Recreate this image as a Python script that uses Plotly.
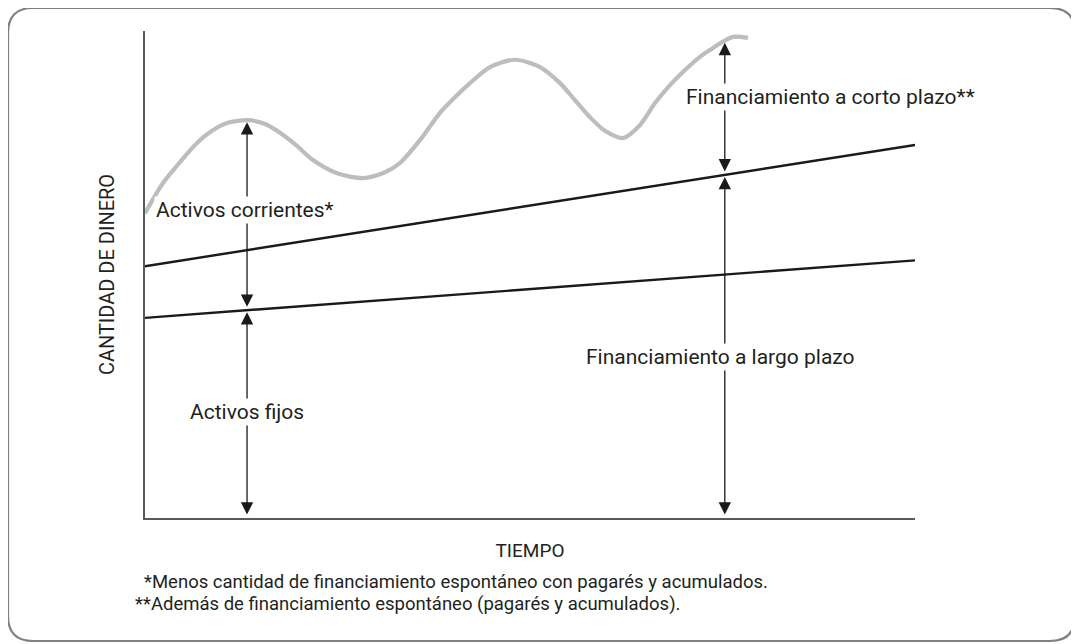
import numpy as np
import plotly.graph_objects as go

# Eje del tiempo (0-100) y cantidad de dinero (0-100), unidades arbitrarias
curva_x = [0, 2.34, 4.55, 6.75, 8.70, 10.65, 13.38, 15.58, 17.53, 19.74, 21.82,
           24.94, 28.31, 31.17, 33.12, 35.71, 38.31, 40.26, 42.21, 44.81, 48.05,
           51.30, 53.90, 55.84, 57.79, 59.74, 62.08, 64.29, 66.23, 68.18, 70.13,
           72.08, 73.38, 74.94, 76.36, 78.31]
curva_y = [62.6, 68.8, 73.1, 77.0, 79.5, 81.1, 81.7, 80.9, 79.1, 76.4, 73.5,
           70.8, 69.8, 71.0, 72.9, 77.6, 83.2, 86.4, 89.3, 92.6, 94.1,
           92.6, 89.3, 85.8, 82.3, 79.5, 78.0, 80.7, 85.2, 88.9, 92.0,
           94.7, 96.1, 97.7, 98.8, 98.6]

linea_x = [0, 100]
permanentes_y = [51.7, 76.6]   # activos fijos + activos corrientes permanentes
fijos_y = [41.1, 52.9]         # activos fijos

flecha_x = [13.25, 75.3]

etiquetas = {
    "corrientes": "Activos corrientes*",
    "fijos": "Activos fijos",
    "corto": "Financiamiento a corto plazo**",
    "largo": "Financiamiento a largo plazo",
}
notas = [
    "*Menos cantidad de financiamiento espontáneo con pagarés y acumulados.",
    "**Además de financiamiento espontáneo (pagarés y acumulados).",
]

FONT = "Roboto, Liberation Sans, Arial, sans-serif"
TXT = "#231f20"

fig = go.Figure()
fig.add_trace(go.Scatter(x=curva_x, y=curva_y, mode="lines",
                         line=dict(color="#bcbdc0", width=4.2, shape="spline", smoothing=0.8),
                         hoverinfo="skip"))
fig.add_trace(go.Scatter(x=linea_x, y=permanentes_y, mode="lines",
                         line=dict(color="#1a1a1a", width=2.4), hoverinfo="skip"))
fig.add_trace(go.Scatter(x=linea_x, y=fijos_y, mode="lines",
                         line=dict(color="#1a1a1a", width=2.4), hoverinfo="skip"))


def _arrow(x, y0, y1):
    """Double-headed vertical arrow in data coordinates."""
    fig.add_annotation(x=x, y=y1, ax=x, ay=y0, xref="x", yref="y", axref="x", ayref="y",
                       text="", showarrow=True, arrowhead=2, arrowside="end+start",
                       arrowsize=1.9, arrowwidth=1.3, arrowcolor="#1a1a1a",
                       standoff=2, startstandoff=2)


def _label(x, y, text, xanchor="center"):
    fig.add_annotation(x=x, y=y, xref="x", yref="y", text=text, showarrow=False,
                       xanchor=xanchor, yanchor="middle", bgcolor="white", borderpad=1,
                       font=dict(family=FONT, size=21, color=TXT))


xa, xb = flecha_x
fijo_a = np.interp(xa, linea_x, fijos_y)
curva_a = np.interp(xa, curva_x, curva_y)
perm_b = np.interp(xb, linea_x, permanentes_y)
curva_b = np.interp(xb, curva_x, curva_y)

_arrow(xa, fijo_a, curva_a)
_arrow(xa, 0, fijo_a)
_arrow(xb, perm_b, curva_b)
_arrow(xb, 0, perm_b)

_label(13.0, (fijo_a + curva_a) / 2 + 1, etiquetas["corrientes"])
_label(xa, 21.8, etiquetas["fijos"])
_label(70.0, 86.4, etiquetas["corto"], xanchor="left")
_label(xb - 0.6, 33.1, etiquetas["largo"])

# notas al pie
fig.add_annotation(x=-0.004, y=-0.1314, xref="paper", yref="paper", text=notas[0],
                   showarrow=False, xanchor="left", yanchor="middle",
                   font=dict(family=FONT, size=18.5, color=TXT))
fig.add_annotation(x=-0.015, y=-0.1766, xref="paper", yref="paper", text=notas[1],
                   showarrow=False, xanchor="left", yanchor="middle",
                   font=dict(family=FONT, size=18.5, color=TXT))

# marco redondeado
x0, x1, yt, yb = -0.1779, 1.2078, 1.0472, -0.2526
rx, ry = 25 / 770, 25 / 487
path = (f"M {x0+rx},{yt} L {x1-rx},{yt} Q {x1},{yt} {x1},{yt-ry} L {x1},{yb+ry} "
        f"Q {x1},{yb} {x1-rx},{yb} L {x0+rx},{yb} Q {x0},{yb} {x0},{yb+ry} "
        f"L {x0},{yt-ry} Q {x0},{yt} {x0+rx},{yt} Z")
fig.add_shape(type="path", path=path, xref="paper", yref="paper",
              line=dict(color="#808080", width=2.2), layer="below")

# la página añade 8 px de margen al cuerpo: el lienzo se corre 8 px
fig.update_layout(
    width=1071, height=636,
    margin=dict(l=137, r=164, t=23, b=126, autoexpand=False),
    paper_bgcolor="white", plot_bgcolor="white",
    showlegend=False,
    font=dict(family=FONT, color=TXT),
    xaxis=dict(range=[0, 100], showline=True, linecolor="#58595b", linewidth=2,
               showgrid=False, zeroline=False, showticklabels=False, ticks="",
               automargin=False,
               title=dict(text="TIEMPO", font=dict(size=19, family=FONT, color=TXT), standoff=25)),
    yaxis=dict(range=[0, 100], showline=True, linecolor="#58595b", linewidth=2,
               showgrid=False, zeroline=False, showticklabels=False, ticks="",
               automargin=False,
               title=dict(text="CANTIDAD DE DINERO", font=dict(size=20, family=FONT, color=TXT),
                          standoff=23)),
)

fig.write_html("out.html")
